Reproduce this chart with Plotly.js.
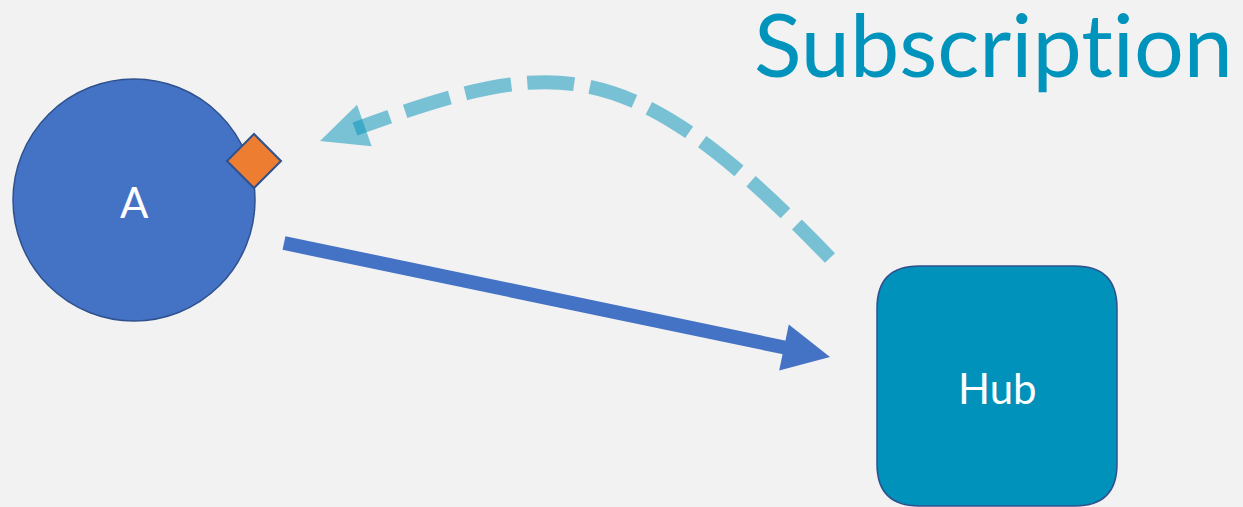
<!DOCTYPE html>
<html><head><meta charset="utf-8">
<script src="https://cdn.plot.ly/plotly-3.0.1.min.js"></script>
<style>html,body{margin:0;padding:0;background:#F2F2F2;overflow:hidden}
svg text{font-variant-ligatures:none;font-feature-settings:"liga" 0,"clig" 0}</style>
</head><body><div id="chart" style="width:1243px;height:507px"></div>
<script>
// ---- content ----
const titleText = "Subscription";
const nodeLabels = ["A", "Hub"];
const edgeFrom = ["A", "Hub"];
const edgeTo = ["Hub", "A"];
const edgeStyle = ["solid", "dashed"];

// ---- geometry (pixel space) ----
const W = 1243, H = 507;
const geo = {
  A: {cx: 134, cy: 200, r: 121},
  Hub: {x0: 877, x1: 1117, y0: 266, y1: 506, rad: 42},
  port: {cx: 254, cy: 161, half: 27},
  solid: {x0: 284, y0: 243, tx: 830, ty: 357, head: 47, halfW: 23.5, width: 14},
  dashed: {p0: [830, 258], p1: [626, 46], p2: [554, 57], p3: [355, 129],
           tip: [320, 141], head: 47, halfW: 22, width: 14}
};
const colors = {blue: '#4472C4', edge: '#2F528F', hub: '#0092BA', orange: '#ED7D31',
                teal: 'rgb(0,146,186)', title: '#0093BC', bg: '#F2F2F2'};

function tri(tip, dir, len, halfW) {
  const bx = tip[0] - dir[0] * len, by = tip[1] - dir[1] * len;
  const nx = -dir[1], ny = dir[0];
  return `M ${tip[0]} ${tip[1]} L ${bx + nx * halfW} ${by + ny * halfW} L ${bx - nx * halfW} ${by - ny * halfW} Z`;
}
function unit(dx, dy) { const l = Math.hypot(dx, dy); return [dx / l, dy / l]; }

const shapes = [];
// node A circle
const a = geo.A;
shapes.push({type: 'circle', xref: 'x', yref: 'y', x0: a.cx - a.r, x1: a.cx + a.r, y0: a.cy - a.r, y1: a.cy + a.r,
  fillcolor: colors.blue, line: {color: colors.edge, width: 1.5}, layer: 'above'});
// port diamond
const p = geo.port;
shapes.push({type: 'path', xref: 'x', yref: 'y',
  path: `M ${p.cx - p.half} ${p.cy} L ${p.cx} ${p.cy - p.half} L ${p.cx + p.half} ${p.cy} L ${p.cx} ${p.cy + p.half} Z`,
  fillcolor: colors.orange, line: {color: colors.edge, width: 2}});
// hub rounded box
const h = geo.Hub, r = h.rad;
shapes.push({type: 'path', xref: 'x', yref: 'y',
  path: `M ${h.x0 + r} ${h.y0} L ${h.x1 - r} ${h.y0} Q ${h.x1} ${h.y0} ${h.x1} ${h.y0 + r} L ${h.x1} ${h.y1 - r} Q ${h.x1} ${h.y1} ${h.x1 - r} ${h.y1} L ${h.x0 + r} ${h.y1} Q ${h.x0} ${h.y1} ${h.x0} ${h.y1 - r} L ${h.x0} ${h.y0 + r} Q ${h.x0} ${h.y0} ${h.x0 + r} ${h.y0} Z`,
  fillcolor: colors.hub, line: {color: colors.edge, width: 1.5}});
// solid arrow A -> Hub
const s = geo.solid;
const su = unit(s.tx - s.x0, s.ty - s.y0);
shapes.push({type: 'line', xref: 'x', yref: 'y', x0: s.x0, y0: s.y0,
  x1: s.tx - su[0] * (s.head - 3), y1: s.ty - su[1] * (s.head - 3),
  line: {color: colors.blue, width: s.width}});
shapes.push({type: 'path', xref: 'x', yref: 'y', path: tri([s.tx, s.ty], su, s.head, s.halfW),
  fillcolor: colors.blue, line: {width: 0}});
// dashed curve Hub -> A
const d = geo.dashed;
shapes.push({type: 'path', xref: 'x', yref: 'y',
  path: `M ${d.p0[0]} ${d.p0[1]} C ${d.p1[0]} ${d.p1[1]} ${d.p2[0]} ${d.p2[1]} ${d.p3[0]} ${d.p3[1]}`,
  line: {color: colors.teal, width: d.width, dash: '47px,16px'}, opacity: 0.5});
const du = unit(d.tip[0] - (d.p3[0] + 9), d.tip[1] - (d.p3[1] - 3.5));
shapes.push({type: 'path', xref: 'x', yref: 'y', path: tri(d.tip, du, d.head, d.halfW),
  fillcolor: colors.teal, line: {width: 0}, opacity: 0.5});

const font = 'Lato, "Open Sans", sans-serif';
const annotations = [
  {x: a.cx, y: a.cy + 2, xref: 'x', yref: 'y', text: nodeLabels[0], showarrow: false,
   font: {family: font, size: 42, color: '#FFFFFF'}},
  {x: (h.x0 + h.x1) / 2, y: 388, xref: 'x', yref: 'y', text: nodeLabels[1], showarrow: false,
   font: {family: font, size: 42, color: '#FFFFFF'}},
  {x: 752, y: 43, xref: 'x', yref: 'y', xanchor: 'left', yanchor: 'middle', text: titleText, showarrow: false,
   font: {family: font, size: 88, color: colors.title}}
];

const layout = {
  width: W, height: H, margin: {l: 0, r: 0, t: 0, b: 0},
  paper_bgcolor: colors.bg, plot_bgcolor: colors.bg, showlegend: false,
  xaxis: {range: [0, W], visible: false, fixedrange: true},
  yaxis: {range: [H, 0], visible: false, fixedrange: true},
  shapes: shapes, annotations: annotations
};
Plotly.newPlot('chart', [{x: [], y: [], type: 'scatter', hoverinfo: 'skip'}], layout,
  {staticPlot: true, displayModeBar: false});
</script></body></html>
